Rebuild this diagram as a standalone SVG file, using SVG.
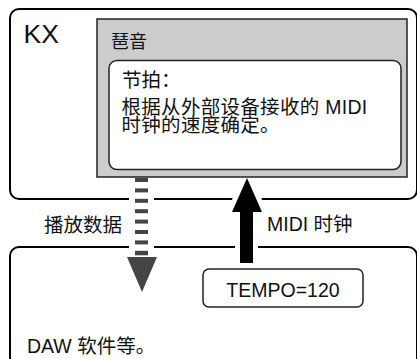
<svg xmlns="http://www.w3.org/2000/svg" width="417" height="359" viewBox="0 0 417 359">
<style>
.frame{fill:#fff;stroke:#000;stroke-width:2}
.gray{fill:#cccccc;stroke:#222;stroke-width:1.5}
.inner{fill:#fff;stroke:#222;stroke-width:1.5}
.tag{fill:#fff;stroke:#222;stroke-width:1.5}
.t{font-family:"Liberation Sans","Noto Sans CJK SC",sans-serif;fill:#111}
.halo{fill:#fff;stroke:#fff;stroke-width:10;stroke-linejoin:miter}
</style>
<rect width="417" height="359" fill="#fff"/>
<g id="kx">
<rect class="frame" x="10" y="9" width="407" height="190" rx="9"/>
<text class="t" x="23.5" y="43" font-size="26.5">KX</text>
</g>
<g id="daw">
<rect class="frame" x="10" y="247" width="407" height="130" rx="9"/>
<text class="t" x="27" y="353" font-size="19.5">DAW 软件等。</text>
</g>
<g id="connectors">
<g id="playback">
<rect x="129" y="178" width="25" height="80" fill="#fff"/>
<polygon class="halo" points="127,257 157,257 142,292" stroke-width="8"/>
<g fill="#444">
<rect x="135" y="178" width="13" height="4"/>
<rect x="135" y="188.4" width="13" height="4"/>
<rect x="135" y="198.8" width="13" height="4"/>
<rect x="135" y="209.2" width="13" height="4"/>
<rect x="135" y="219.6" width="13" height="4"/>
<rect x="135" y="230" width="13" height="4"/>
<rect x="135" y="240.4" width="13" height="4"/>
<rect x="135" y="250.8" width="13" height="4.5"/>
<polygon points="127,257 157,257 142,292"/>
</g>
<text class="t" x="44" y="232" font-size="19.5">播放数据</text>
</g>
<g id="midiclock">
<polygon class="halo" points="247,178 262,212 253,212 253,263 240,263 240,212 232,212"/>
<polygon fill="#000" points="247,178 262,212 253,212 253,263 240,263 240,212 232,212"/>
<text class="t" x="267" y="231" font-size="19.5">MIDI 时钟</text>
</g>
</g>
<g id="arp">
<rect class="gray" x="97" y="19" width="310" height="158"/>
<text class="t" x="111" y="47.5" font-size="18">琶音</text>
</g>
<g id="tempo-note">
<rect class="inner" x="109" y="60.5" width="292" height="109" rx="8"/>
<text class="t" x="122" y="87" font-size="19.5">节拍：</text>
<text class="t" x="121.5" y="113.5" font-size="19.5" letter-spacing="0.3">根据从外部设备接收的 MIDI</text>
<text class="t" x="121.5" y="132" font-size="19.5" letter-spacing="0.3">时钟的速度确定。</text>
</g>
<g id="tempo">
<rect class="tag" x="203" y="269" width="160" height="38" rx="6"/>
<text class="t" x="283" y="297" font-size="19.5" text-anchor="middle">TEMPO=120</text>
</g>
</svg>
